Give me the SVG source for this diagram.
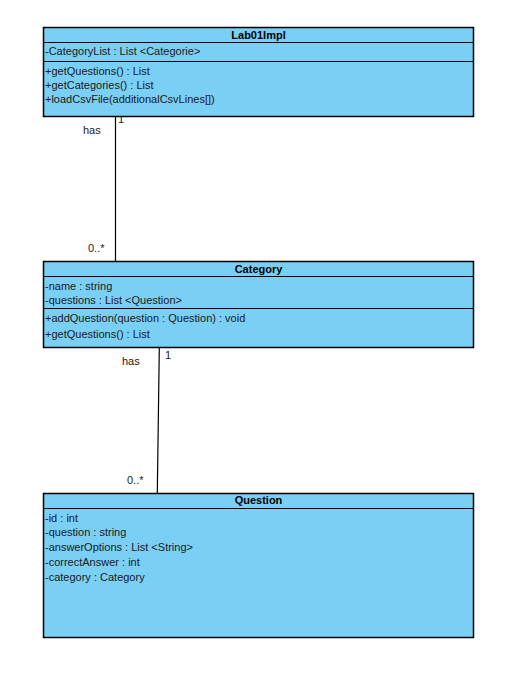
<svg xmlns="http://www.w3.org/2000/svg" width="525" height="682" viewBox="0 0 525 682">
  <style>
    .box { fill: #7ACFF5; stroke: #000; stroke-width: 1.5; }
    .sep { stroke: #000; stroke-width: 1.2; }
    .t { font-family: "Liberation Sans", Arial, sans-serif; font-size: 11px; fill: #1a1a1a; }
    .title { font-family: "Liberation Sans", Arial, sans-serif; font-size: 11px; font-weight: bold; fill: #000; text-anchor: middle; }
    .edge { stroke: #000; stroke-width: 1.2; fill: none; }
  </style>
  <rect width="525" height="682" fill="#fff"/>

  <g id="connectors">
    <line class="edge" x1="115.5" y1="116.5" x2="115.5" y2="261.5"/>
    <text class="t" x="118" y="123">1</text>
    <text class="t" x="83" y="134">has</text>
    <text class="t" x="88" y="252">0..*</text>

    <line class="edge" x1="159.3" y1="348" x2="157.3" y2="493"/>
    <text class="t" x="165" y="359">1</text>
    <text class="t" x="122" y="365">has</text>
    <text class="t" x="127" y="484">0..*</text>
  </g>

  <g id="Lab01Impl">
    <rect class="box" x="43.5" y="27.5" width="430" height="89"/>
    <line class="sep" x1="43.5" y1="42.5" x2="473.5" y2="42.5"/>
    <line class="sep" x1="43.5" y1="61.5" x2="473.5" y2="61.5"/>
    <text class="title" x="258.5" y="38.5">Lab01Impl</text>
    <text class="t" x="45" y="55">-CategoryList : List &lt;Categorie&gt;</text>
    <text class="t" x="45" y="75">+getQuestions() : List</text>
    <text class="t" x="45" y="89">+getCategories() : List</text>
    <text class="t" x="45" y="103">+loadCsvFile(additionalCsvLines[])</text>
  </g>

  <g id="Category">
    <rect class="box" x="43.5" y="261.5" width="430" height="86"/>
    <line class="sep" x1="43.5" y1="276.5" x2="473.5" y2="276.5"/>
    <line class="sep" x1="43.5" y1="308.5" x2="473.5" y2="308.5"/>
    <text class="title" x="258.5" y="272.5">Category</text>
    <text class="t" x="45" y="289.5">-name : string</text>
    <text class="t" x="45" y="304">-questions : List &lt;Question&gt;</text>
    <text class="t" x="45" y="322">+addQuestion(question : Question) : void</text>
    <text class="t" x="45" y="338">+getQuestions() : List</text>
  </g>

  <g id="Question">
    <rect class="box" x="43.5" y="493.5" width="430" height="144"/>
    <line class="sep" x1="43.5" y1="508.5" x2="473.5" y2="508.5"/>
    <text class="title" x="258.5" y="504">Question</text>
    <text class="t" x="45" y="521.5">-id : int</text>
    <text class="t" x="45" y="536">-question : string</text>
    <text class="t" x="45" y="551">-answerOptions : List &lt;String&gt;</text>
    <text class="t" x="45" y="565.5">-correctAnswer : int</text>
    <text class="t" x="45" y="580.5">-category : Category</text>
  </g>
</svg>
